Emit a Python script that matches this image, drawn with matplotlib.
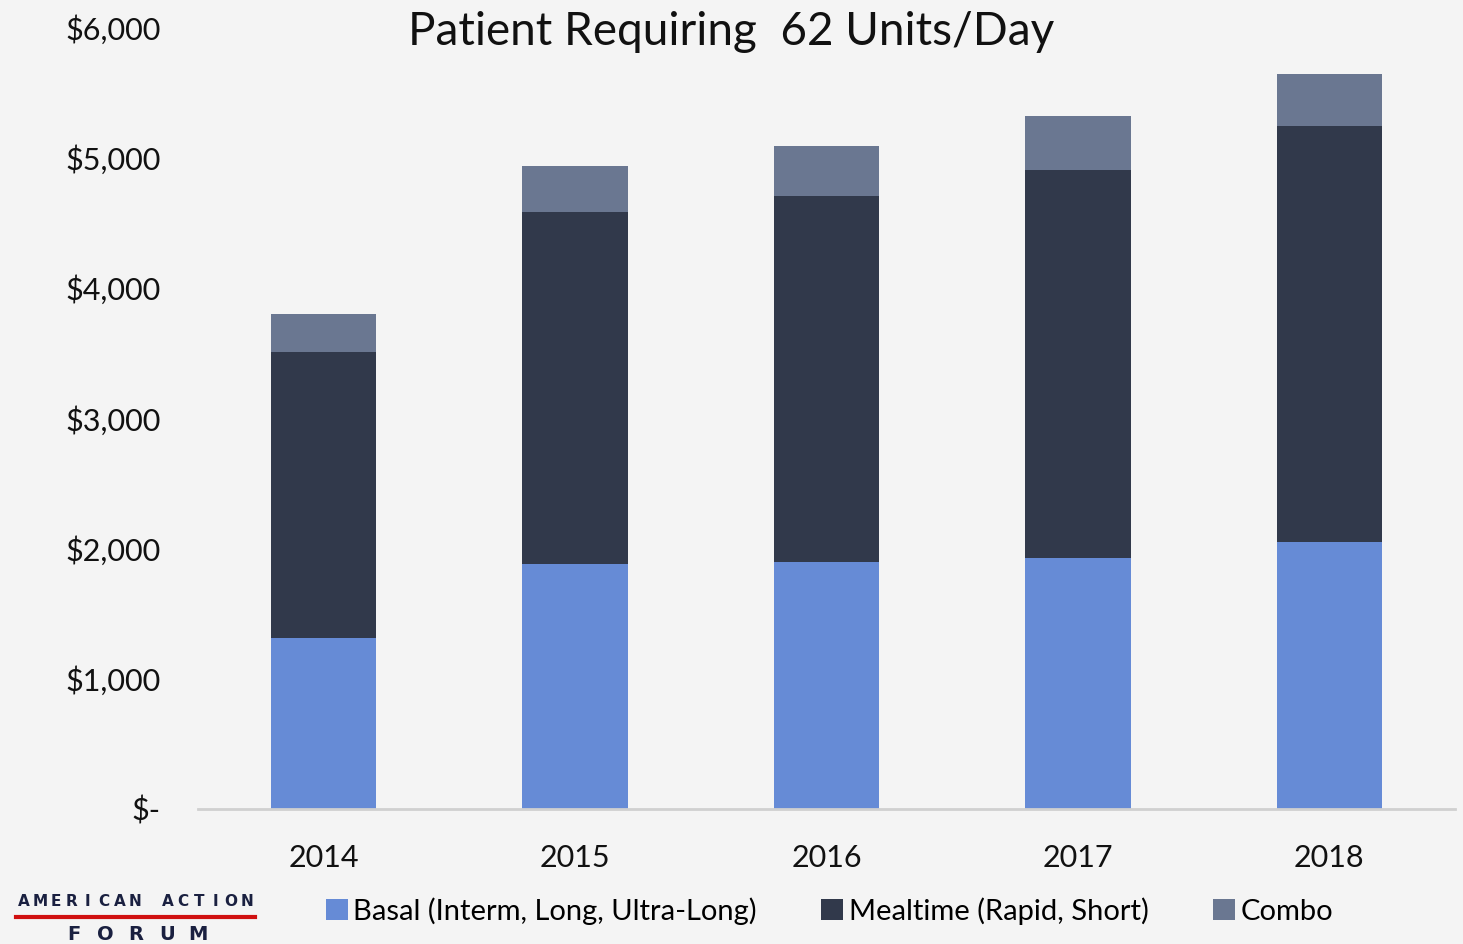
import matplotlib
matplotlib.use("Agg")
import matplotlib.pyplot as plt
import numpy as np

years = ["2014", "2015", "2016", "2017", "2018"]
basal = [1312, 1880, 1896, 1926, 2049]
mealtime = [2195, 2702, 2809, 2978, 3193]
combo = [292, 353, 383, 415, 399]
series_names = ["Basal (Interm, Long, Ultra-Long)", "Mealtime (Rapid, Short)", "Combo"]
yticks = [0, 1000, 2000, 3000, 4000, 5000, 6000]
ytick_labels = ["$-", "$1,000", "$2,000", "$3,000", "$4,000", "$5,000", "$6,000"]

colors = ["#668bd6", "#31394b", "#6a7791"]
bg = "#f4f4f4"

plt.rcParams['font.family'] = ['Lato', 'DejaVu Sans']

fig = plt.figure(figsize=(14.63, 9.44), dpi=100, facecolor=bg)
ax = fig.add_axes([198/1463, 1-809/944, (1455-198)/1463, (809-27)/944])
ax.set_facecolor(bg)

x = np.arange(len(years))
w = 0.42
b1 = np.array(basal)
b2 = b1 + np.array(mealtime)
ax.bar(x, basal, w, color=colors[0], label=series_names[0])
ax.bar(x, mealtime, w, bottom=b1, color=colors[1], label=series_names[1])
ax.bar(x, combo, w, bottom=b2, color=colors[2], label=series_names[2])

ax.set_xlim(-0.5, 4.5)
ax.set_ylim(0, 6000)
ax.set_yticks(yticks)
ax.set_yticklabels(ytick_labels, fontsize=22)
ax.set_xticks(x)
ax.set_xticklabels(years, fontsize=22)
ax.tick_params(axis='both', length=0, colors="#111111")
ax.tick_params(axis='y', pad=27)
ax.tick_params(axis='x', pad=25)
for s in ["top", "right", "left"]:
    ax.spines[s].set_visible(False)
ax.spines["bottom"].set_color("#d0d0d0")
ax.spines["bottom"].set_linewidth(2)

fig.text(0.5, 0.966, "Patient Requiring  62 Units/Day", ha="center", va="center",
         fontsize=33, color="#111111")

handles, labels = ax.get_legend_handles_labels()
leg = fig.legend(handles, labels, loc="center", bbox_to_anchor=(0.567, 0.035), ncol=3,
                 frameon=False, fontsize=21, handlelength=0.75, handleheight=0.75,
                 handletextpad=0.2, columnspacing=2.2)

# logo
top_word = "AMERICAN ACTION"
xs = np.linspace(24, 247, len(top_word))
for ch, xp in zip(top_word, xs):
    fig.text(xp/1463, 1-902/944, ch, ha="center", va="center",
             fontsize=11, fontweight="bold", color="#1a2040", family=["DejaVu Sans"])
fig.add_artist(plt.Line2D([16/1463, 255/1463], [1-917/944, 1-917/944], color="#d01010", lw=3))
bottom_word = "FORUM"
xs2 = np.linspace(74, 198, len(bottom_word))
for ch, xp in zip(bottom_word, xs2):
    fig.text(xp/1463, 1-934/944, ch, ha="center", va="center",
             fontsize=14, fontweight="bold", color="#1a2040", family=["DejaVu Sans"])

fig.savefig("out.png", dpi=100, facecolor=bg)
